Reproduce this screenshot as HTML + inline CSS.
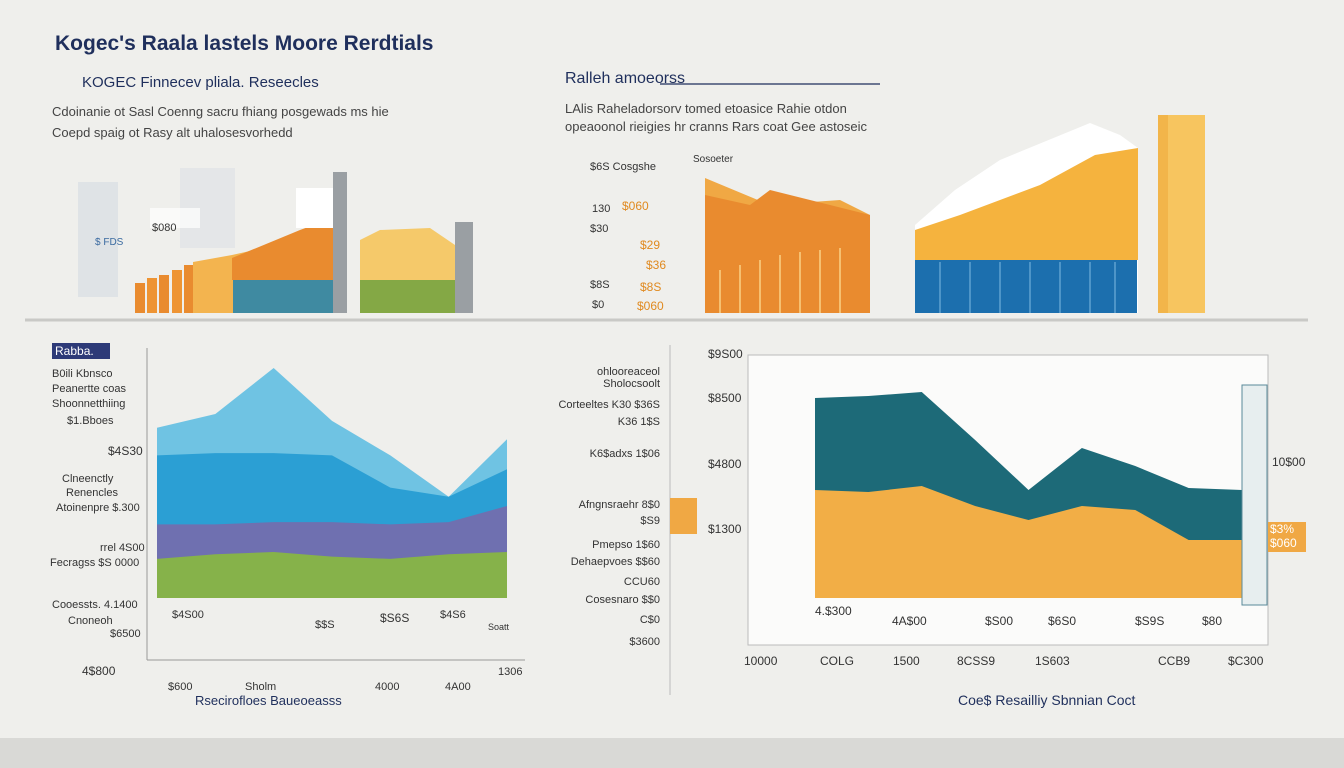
<!DOCTYPE html>
<html><head><meta charset="utf-8"><style>
body{margin:0;width:1344px;height:768px;background:#efefec;overflow:hidden;font-family:"Liberation Sans",sans-serif}
svg{position:absolute;left:0;top:0}
text{font-family:"Liberation Sans",sans-serif}
</style></head><body>
<svg width="1344" height="768">
<rect x="0" y="738" width="1344" height="30" fill="#d9d9d6"/>
<text x="55" y="50" font-size="21" font-weight="bold" fill="#1f2f5c">Kogec's Raala lastels Moore Rerdtials</text>
<text x="82" y="87" font-size="15" fill="#1f2f5c">KOGEC Finnecev pliala. Reseecles</text>
<text x="52" y="116" font-size="13" fill="#444">Cdoinanie ot Sasl Coenng sacru fhiang posgewads ms hie</text>
<text x="52" y="137" font-size="13" fill="#444">Coepd spaig ot Rasy alt uhalosesvorhedd</text>
<text x="565" y="83" font-size="16" fill="#1f2f5c">Ralleh amoeorss</text>
<line x1="660" y1="84" x2="880" y2="84" stroke="#1f2f5c" stroke-width="1.2"/>
<text x="565" y="113" font-size="13" fill="#444">LAlis Raheladorsorv tomed etoasice Rahie otdon</text>
<text x="565" y="131" font-size="13" fill="#444">opeaoonol rieigies hr cranns Rars coat Gee astoseic</text>

<g>
<rect x="78" y="182" width="40" height="115" fill="#dfe3e6"/>
<rect x="180" y="168" width="55" height="80" fill="#e4e6e8"/>
<rect x="150" y="208" width="50" height="20" fill="#fff" opacity=".7"/>
<text x="152" y="231" font-size="11" fill="#333">$080</text>
<text x="95" y="245" font-size="10" fill="#3a6aa0">$ FDS</text>
<rect x="135" y="283" width="10" height="30" fill="#e98b2f"/>
<rect x="147" y="278" width="10" height="35" fill="#ee9433"/>
<rect x="159" y="275" width="10" height="38" fill="#e98b2f"/>
<rect x="172" y="270" width="10" height="43" fill="#ee9433"/>
<rect x="184" y="265" width="10" height="48" fill="#e98b2f"/>
<polygon points="193,313 193,262 232,255 300,240 333,218 333,313" fill="#f3b44f"/>
<polygon points="232,258 300,230 333,218 333,280 232,280" fill="#e98b2f"/>
<rect x="233" y="280" width="113" height="33" fill="#3f8aa1"/>
<rect x="296" y="188" width="40" height="40" fill="#fff"/>
<rect x="333" y="172" width="14" height="141" fill="#9a9fa3"/>
<polygon points="360,313 360,240 380,230 430,228 455,245 455,313" fill="#f5c96a"/>
<rect x="360" y="280" width="95" height="33" fill="#84a845"/>
<rect x="455" y="222" width="18" height="91" fill="#9a9fa3"/>
</g>

<g>
<text x="590" y="170" font-size="11" fill="#333">$6S Cosgshe</text>
<text x="592" y="212" font-size="11" fill="#333">130</text>
<text x="622" y="210" font-size="12" fill="#e08a20">$060</text>
<text x="590" y="232" font-size="11" fill="#333">$30</text>
<text x="640" y="249" font-size="12" fill="#e08a20">$29</text>
<text x="646" y="269" font-size="12" fill="#e08a20">$36</text>
<text x="590" y="288" font-size="11" fill="#333">$8S</text>
<text x="640" y="291" font-size="12" fill="#e08a20">$8S</text>
<text x="592" y="308" font-size="11" fill="#333">$0</text>
<text x="637" y="310" font-size="12" fill="#e08a20">$060</text>
<text x="693" y="162" font-size="10" fill="#333">Sosoeter</text>
<polygon points="705,313 705,178 770,205 840,200 870,215 870,313" fill="#f0a844"/>
<polygon points="705,195 750,205 770,190 870,215 870,313 705,313" fill="#e98b2f"/>
<g stroke="#f6c070" stroke-width="2">
<line x1="720" y1="270" x2="720" y2="313"/><line x1="740" y1="265" x2="740" y2="313"/><line x1="760" y1="260" x2="760" y2="313"/><line x1="780" y1="255" x2="780" y2="313"/><line x1="800" y1="252" x2="800" y2="313"/><line x1="820" y1="250" x2="820" y2="313"/><line x1="840" y1="248" x2="840" y2="313"/></g>
<polygon points="915,313 915,225 955,190 1000,160 1090,123 1120,135 1138,148 1138,313" fill="#fff"/>
<polygon points="915,230 960,215 1040,185 1095,155 1138,148 1138,260 915,262" fill="#f5b33e"/>
<rect x="915" y="260" width="222" height="53" fill="#1c6fae"/>
<g stroke="#4e95c8" stroke-width="2"><line x1="940" y1="262" x2="940" y2="313"/><line x1="970" y1="262" x2="970" y2="313"/><line x1="1000" y1="262" x2="1000" y2="313"/><line x1="1030" y1="262" x2="1030" y2="313"/><line x1="1060" y1="262" x2="1060" y2="313"/><line x1="1090" y1="262" x2="1090" y2="313"/><line x1="1115" y1="262" x2="1115" y2="313"/></g>
<rect x="1158" y="115" width="47" height="198" fill="#f7c55f"/>
<rect x="1158" y="115" width="10" height="198" fill="#f2b54a"/>
</g>
<line x1="25" y1="320" x2="1308" y2="320" stroke="#c9c9c6" stroke-width="3"/>

<rect x="748" y="355" width="520" height="290" fill="#fbfbfa" stroke="#bbb"/>
<g id="leftChart"></g>
<g id="rightChart"></g>

<g font-size="11" fill="#333">
<rect x="52" y="343" width="58" height="16" fill="#2d3a78"/>
<text x="55" y="355" fill="#fff" font-size="12">Rabba.</text>
<text x="52" y="377">B0ili Kbnsco</text><text x="52" y="392">Peanertte coas</text><text x="52" y="407">Shoonnetthiing</text>
<text x="67" y="424">$1.Bboes</text>
<text x="108" y="455" font-size="12">$4S30</text>
<text x="62" y="482">Clneenctly</text><text x="66" y="496">Renencles</text>
<text x="56" y="511">Atoinenpre $.300</text>
<text x="100" y="551">rrel 4S00</text><text x="50" y="566">Fecragss $S 0000</text>
<text x="52" y="608">Cooessts. 4.1400</text><text x="68" y="624">Cnoneoh</text>
<text x="110" y="637">$6500</text>
<text x="82" y="675" font-size="12">4$800</text>
<text x="168" y="690">$600</text><text x="245" y="690">Sholm</text><text x="375" y="690">4000</text><text x="445" y="690">4A00</text>
<text x="498" y="675">1306</text>
<text x="172" y="618">$4S00</text><text x="315" y="628">$$S</text><text x="380" y="622" font-size="12">$S6S</text><text x="440" y="618">$4S6</text><text x="488" y="630" font-size="9">Soatt</text>
<text x="195" y="705" font-size="13" fill="#1f2f5c">Rsecirofloes Baueoeasss</text>
</g>
<line x1="147" y1="348" x2="147" y2="660" stroke="#999"/>
<line x1="147" y1="660" x2="525" y2="660" stroke="#999"/>
<line x1="670" y1="345" x2="670" y2="695" stroke="#bbb"/>
<g font-size="11" fill="#333" text-anchor="end">
<text x="660" y="375">ohlooreaceol</text><text x="660" y="387">Sholocsoolt</text><text x="660" y="408">Corteeltes K30 $36S</text><text x="660" y="425">K36 1$S</text><text x="660" y="457">K6$adxs 1$06</text>
<text x="660" y="508">Afngnsraehr 8$0</text><text x="660" y="524">$S9</text><text x="660" y="548">Pmepso 1$60</text><text x="660" y="565">Dehaepvoes $$60</text><text x="660" y="585">CCU60</text><text x="660" y="603">Cosesnaro $$0</text><text x="660" y="623">C$0</text><text x="660" y="645">$3600</text>
</g>
<rect x="670" y="498" width="27" height="36" fill="#f0a844"/>

<g font-size="12" fill="#333">
<text x="708" y="358">$9S00</text><text x="708" y="402">$8500</text><text x="708" y="468">$4800</text><text x="708" y="533">$1300</text>
<text x="815" y="615">4.$300</text><text x="892" y="625">4A$00</text><text x="985" y="625">$S00</text><text x="1048" y="625">$6S0</text><text x="1135" y="625">$S9S</text><text x="1202" y="625">$80</text>
<text x="744" y="665">10000</text><text x="820" y="665">COLG</text><text x="893" y="665">1500</text><text x="957" y="665">8CSS9</text><text x="1035" y="665">1S603</text><text x="1158" y="665">CCB9</text><text x="1228" y="665">$C300</text>
<text x="1272" y="466">10$00</text>
<rect x="1268" y="522" width="38" height="30" fill="#f0a844"/>
<text x="1270" y="533" fill="#fff">$3%</text><text x="1270" y="547" fill="#fff">$060</text>
<text x="958" y="705" font-size="14" fill="#1f2f5c">Coe$ Resailliy Sbnnian Coct</text>
</g>
<rect x="1242" y="385" width="25" height="220" fill="#e7eeef" stroke="#5a8a99"/>
<script>
const leftX=[0,1,2,3,4,5,6];
const leftLightBlue=[74,80,100,77,62,44,69];
const leftBlue=[62,63,63,62,48,44,56];
const leftPurple=[32,32,33,33,32,33,40];
const leftGreen=[17,19,20,18,17,19,20];
const rightX=[0,1,2,3,4,5,6,7,8];
const rightTeal=[100,101,103,79,54,75,66,55,54];
const rightYellow=[54,53,56,46,39,46,44,29,29];
const NS="http://www.w3.org/2000/svg";
function area(g,xs,vals,xf,yf,base,color,name){
  let p=xs.map((x,i)=>xf(x)+","+yf(vals[i])).join(" ");
  p+=" "+xf(xs[xs.length-1])+","+base+" "+xf(xs[0])+","+base;
  const el=document.createElementNS(NS,"polygon");
  el.setAttribute("points",p);el.setAttribute("fill",color);
  
  
  g.appendChild(el);
}
const lg=document.getElementById("leftChart");
const lx=i=>157+i*(507-157)/6, ly=v=>598-v*2.3;
area(lg,leftX,leftLightBlue,lx,ly,598,"#6fc3e3","area-light-blue");
area(lg,leftX,leftBlue,lx,ly,598,"#2b9fd4","area-blue");
area(lg,leftX,leftPurple,lx,ly,598,"#6f70b0","area-purple");
area(lg,leftX,leftGreen,lx,ly,598,"#86b24a","area-green");
const rg=document.getElementById("rightChart");
const rx=i=>815+i*(1242-815)/8, ry=v=>598-v*2;
area(rg,rightX,rightTeal,rx,ry,598,"#1d6a78","area-teal");
area(rg,rightX,rightYellow,rx,ry,598,"#f2ae46","area-yellow");
</script>
</svg>
</body></html>
